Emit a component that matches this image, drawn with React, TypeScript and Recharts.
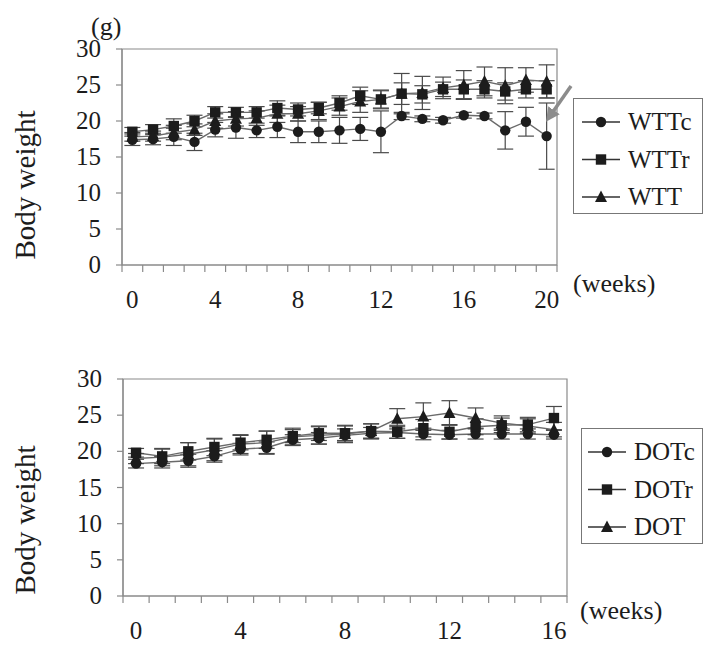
import React from "react";
import {
  LineChart,
  Line,
  XAxis,
  YAxis,
  ErrorBar,
  ReferenceArea,
} from "recharts";

// weeks on the x axis
const weeksTop = [0, 1, 2, 3, 4, 5, 6, 7, 8, 9, 10, 11, 12, 13, 14, 15, 16, 17, 18, 19, 20];
const weeksBottom = [0, 1, 2, 3, 4, 5, 6, 7, 8, 9, 10, 11, 12, 13, 14, 15, 16];
const labelsTop = [0, 4, 8, 12, 16, 20];
const labelsBottom = [0, 4, 8, 12, 16];
const yTicks = [0, 5, 10, 15, 20, 25, 30];

// top panel (WT)
const wttc = [17.4, 17.5, 17.8, 17.1, 18.8, 19.1, 18.7, 19.2, 18.5, 18.5, 18.7, 18.9, 18.5, 20.7, 20.3, 20.1, 20.8, 20.7, 18.7, 19.9, 17.9];
const wttcErr = [0.8, 0.8, 1.2, 1.2, 1.0, 1.5, 1.0, 1.5, 1.5, 1.5, 1.8, 1.6, 2.9, 0.5, 0.4, 0.4, 0.4, 0.4, 2.6, 2.0, 4.6];
const wttr = [18.5, 18.8, 19.3, 20.0, 21.2, 21.2, 21.2, 21.8, 21.6, 21.8, 22.5, 23.5, 23.0, 23.8, 23.7, 24.4, 24.4, 24.4, 24.1, 24.4, 24.4];
const wttrErr = [0.6, 0.7, 1.0, 0.8, 0.8, 0.7, 0.8, 1.0, 0.9, 0.8, 1.0, 1.2, 1.2, 1.5, 1.2, 1.0, 1.3, 1.2, 1.2, 1.2, 1.2];
const wtt = [17.8, 17.9, 18.4, 18.8, 20.0, 20.3, 20.4, 21.0, 21.0, 21.4, 22.0, 22.7, 23.0, 23.8, 23.9, 24.6, 25.0, 25.5, 24.9, 25.7, 25.5];
const wttErr = [0.6, 0.7, 1.0, 0.8, 1.0, 1.0, 1.0, 1.2, 1.0, 1.2, 1.2, 1.5, 1.3, 2.8, 2.3, 1.5, 2.0, 2.0, 2.5, 1.7, 2.3];

// bottom panel (DO)
const dotc = [18.3, 18.5, 18.7, 19.3, 20.3, 20.5, 21.6, 21.8, 22.2, 22.5, 22.6, 22.4, 22.3, 22.4, 22.4, 22.4, 22.3];
const dotcErr = [0.6, 0.8, 0.9, 0.8, 0.8, 0.8, 0.7, 0.8, 0.9, 0.8, 0.8, 0.8, 0.6, 0.7, 0.7, 0.7, 0.6];
const dotr = [19.8, 19.3, 20.0, 20.6, 21.2, 21.6, 22.1, 22.5, 22.5, 22.8, 22.7, 23.2, 22.7, 23.4, 23.6, 23.7, 24.6];
const dotrErr = [0.6, 1.0, 1.2, 1.2, 1.0, 1.2, 0.9, 1.0, 1.0, 1.0, 0.9, 1.2, 1.0, 1.1, 1.0, 1.0, 1.6];
const dot = [19.0, 19.2, 19.6, 20.2, 21.0, 21.2, 22.0, 22.2, 22.4, 22.8, 24.5, 24.8, 25.3, 24.6, 23.9, 23.5, 23.0];
const dotErr = [0.7, 1.2, 1.6, 1.5, 1.3, 1.6, 1.2, 1.2, 1.2, 1.0, 1.4, 1.9, 1.7, 1.4, 1.0, 1.0, 1.0];

const topData = weeksTop.map((w, i) => ({
  week: w,
  c: wttc[i],
  cErr: wttcErr[i],
  r: wttr[i],
  rErr: wttrErr[i],
  t: wtt[i],
  tErr: wttErr[i],
}));

const bottomData = weeksBottom.map((w, i) => ({
  week: w,
  c: dotc[i],
  cErr: dotcErr[i],
  r: dotr[i],
  rErr: dotrErr[i],
  t: dot[i],
  tErr: dotErr[i],
}));

const SERIF = "Liberation Serif, Times New Roman, Times, DejaVu Serif, serif";
const INK = "#1c1c1c";
const LINE = "#6a6a6a";
const AXIS = "#8a8a8a";

type Shape = "circle" | "square" | "triangle";

function Marker({ cx, cy, shape }: { cx: number; cy: number; shape: Shape }) {
  if (cx == null || cy == null) return null;
  if (shape === "circle") return <circle cx={cx} cy={cy} r={5.2} fill={INK} />;
  if (shape === "square")
    return <rect x={cx - 5.2} y={cy - 5.2} width={10.4} height={10.4} fill={INK} />;
  return (
    <polygon
      points={`${cx},${cy - 6.5} ${cx + 6},${cy + 5} ${cx - 6},${cy + 5}`}
      fill={INK}
    />
  );
}

const dotFor = (shape: Shape) => (p: any) =>
  <Marker key={`${shape}-${p.index}`} cx={p.cx} cy={p.cy} shape={shape} />;

// tick marks sit between weeks, labels under every 4th week
const makeXTick = (labels: number[]) => (p: any) => {
  const v = p.payload.value;
  if (!Number.isInteger(v)) {
    return <line x1={p.x} x2={p.x} y1={p.y} y2={p.y + 7} stroke={AXIS} strokeWidth={1.2} />;
  }
  if (!labels.includes(v)) return <g />;
  return (
    <text
      x={p.x}
      y={p.y + 43}
      textAnchor="middle"
      fontSize={25}
      fill={INK}
      style={{ fontFamily: SERIF }}
    >
      {v}
    </text>
  );
};

const YTick = (p: any) => (
  <text
    x={p.x}
    y={p.y + 8}
    textAnchor="end"
    fontSize={25}
    fill={INK}
    style={{ fontFamily: SERIF }}
  >
    {p.payload.value}
  </text>
);

const xTickValues = (weeks: number[]) => {
  const out: number[] = [];
  weeks.forEach((w) => {
    out.push(w - 0.5, w);
  });
  out.push(weeks[weeks.length - 1] + 0.5);
  return out;
};

type Panel = {
  data: any[];
  weeks: number[];
  labels: number[];
  margin: { top: number; right: number; bottom: number; left: number };
  height: number;
};

function BodyWeightChart({ data, weeks, labels, margin, height }: Panel) {
  const last = weeks[weeks.length - 1];
  const series: { key: string; shape: Shape }[] = [
    { key: "c", shape: "circle" },
    { key: "r", shape: "square" },
    { key: "t", shape: "triangle" },
  ];
  return (
    <LineChart width={704} height={height} data={data} margin={margin}>
      <ReferenceArea
        x1={-0.5}
        x2={last + 0.5}
        y1={0}
        y2={30}
        fill="none"
        stroke={AXIS}
        strokeWidth={1.2}
        ifOverflow="visible"
      />
      <XAxis
        dataKey="week"
        type="number"
        domain={[-0.5, last + 0.5]}
        ticks={xTickValues(weeks)}
        interval={0}
        tickSize={0}
        tickMargin={0}
        tickLine={false}
        axisLine={{ stroke: AXIS, strokeWidth: 1.2 }}
        tick={makeXTick(labels)}
        height={45}
      />
      <YAxis
        type="number"
        domain={[0, 30]}
        ticks={yTicks}
        interval={0}
        width={50}
        tickSize={6}
        tickMargin={15}
        axisLine={{ stroke: AXIS, strokeWidth: 1.2 }}
        tickLine={{ stroke: AXIS, strokeWidth: 1.2 }}
        tick={YTick}
      />
      {series.map((s) => (
        <Line
          key={s.key}
          dataKey={s.key}
          stroke={LINE}
          strokeWidth={1.4}
          dot={dotFor(s.shape)}
          activeDot={false}
          isAnimationActive={false}
        >
          <ErrorBar
            dataKey={`${s.key}Err`}
            direction="y"
            width={8}
            stroke="#4a4a4a"
            strokeWidth={1.2}
            isAnimationActive={false}
          />
        </Line>
      ))}
    </LineChart>
  );
}

function LegendBox({
  names,
  left,
  top,
  lineX,
}: {
  names: string[];
  left: number;
  top: number;
  lineX: number;
}) {
  const shapes: Shape[] = ["circle", "square", "triangle"];
  return (
    <svg
      width={704 - left}
      height={118}
      style={{ position: "absolute", left, top }}
    >
      <rect x={0.5} y={0.5} width={704 - left - 2} height={115} fill="white" stroke="#777" />
      {names.map((n, i) => {
        const cy = 24 + i * 37.5;
        return (
          <g key={n}>
            <line x1={lineX} x2={lineX + 38} y1={cy} y2={cy} stroke="#333" strokeWidth={1.3} />
            <Marker cx={lineX + 19} cy={cy} shape={shapes[i]} />
            <text x={lineX + 46} y={cy + 8} fontSize={25} fill={INK} style={{ fontFamily: SERIF }}>
              {n}
            </text>
          </g>
        );
      })}
    </svg>
  );
}

const textStyle = { fontFamily: SERIF, fill: INK };

export default function App() {
  return (
    <div style={{ position: "absolute", left: 0, top: 0, width: 704, height: 648, background: "white", fontFamily: SERIF }}>
      <div style={{ position: "absolute", left: 0, top: 0 }}>
        <BodyWeightChart
          data={topData}
          weeks={weeksTop}
          labels={labelsTop}
          height={320}
          margin={{ top: 49, right: 147, bottom: 10, left: 72 }}
        />
      </div>
      <div style={{ position: "absolute", left: 0, top: 330 }}>
        <BodyWeightChart
          data={bottomData}
          weeks={weeksBottom}
          labels={labelsBottom}
          height={318}
          margin={{ top: 49, right: 137, bottom: 7, left: 73 }}
        />
      </div>
      <svg width={704} height={648} style={{ position: "absolute", left: 0, top: 0, pointerEvents: "none" }}>
        <defs>
          <marker id="head" markerWidth="4" markerHeight="4" refX="2" refY="2" orient="auto">
            <path d="M0,0 L4,2 L0,4 z" fill="#8c8c8c" />
          </marker>
        </defs>
        <text x={91} y={35} fontSize={26} style={textStyle}>(g)</text>
        <text
          transform="translate(35,185) rotate(-90)"
          textAnchor="middle"
          fontSize={29}
          style={textStyle}
        >
          Body weight
        </text>
        <text
          transform="translate(35,520) rotate(-90)"
          textAnchor="middle"
          fontSize={29}
          style={textStyle}
        >
          Body weight
        </text>
        <text x={573} y={292} fontSize={26} style={textStyle}>(weeks)</text>
        <text x={580} y={619} fontSize={26} style={textStyle}>(weeks)</text>
        <line x1={571} y1={86} x2={550} y2={116} stroke="#8c8c8c" strokeWidth={3.5} markerEnd="url(#head)" />
      </svg>
      <LegendBox names={["WTTc", "WTTr", "WTT"]} left={573} top={98} lineX={9} />
      <LegendBox names={["DOTc", "DOTr", "DOT"]} left={581} top={428} lineX={7} />
    </div>
  );
}
